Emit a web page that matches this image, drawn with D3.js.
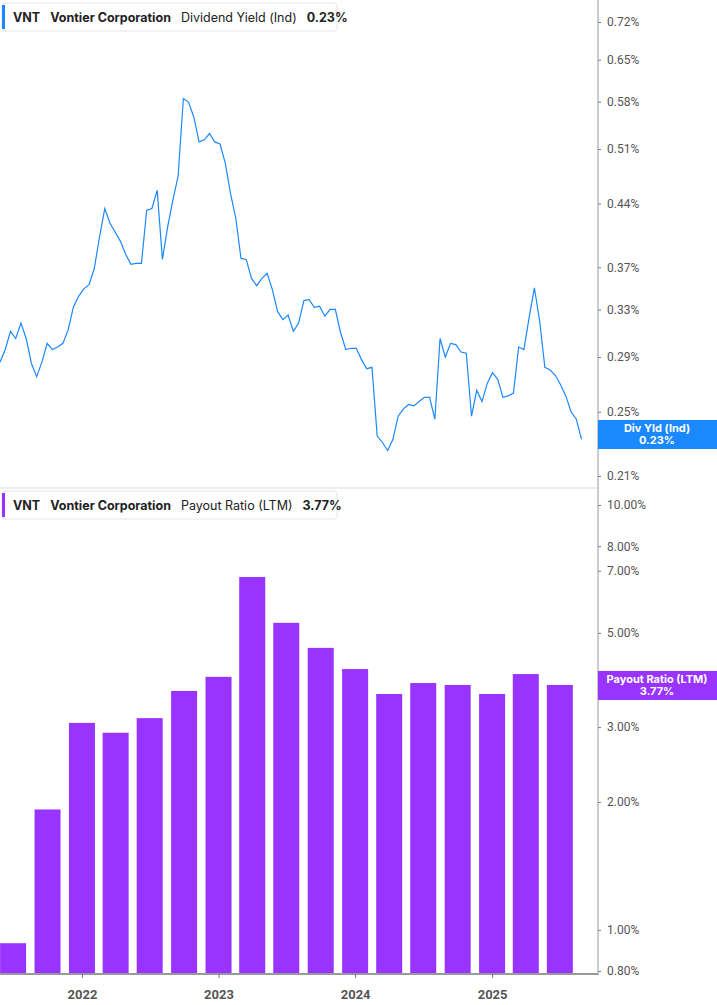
<!DOCTYPE html>
<html><head><meta charset="utf-8">
<script src="https://cdn.jsdelivr.net/npm/d3@7"></script>
<style>body{margin:0;background:#fff;font-family:Inter,"Noto Sans",sans-serif}</style>
</head><body><svg id="c" width="717" height="1005"></svg>
<script>
const yieldStart = "2021-05-27";
const yieldStepDays = 14;
const yieldValues = [0.286,0.296,0.311,0.305,0.318,0.305,0.285,0.275,0.286,0.301,0.296,0.298,0.301,0.312,0.332,0.342,0.349,0.353,0.369,0.402,0.434,0.417,0.407,0.397,0.383,0.373,0.374,0.374,0.432,0.434,0.456,0.378,0.413,0.444,0.474,0.585,0.579,0.556,0.520,0.523,0.532,0.520,0.517,0.491,0.452,0.423,0.379,0.378,0.359,0.352,0.359,0.364,0.348,0.328,0.321,0.325,0.311,0.318,0.338,0.339,0.332,0.333,0.324,0.330,0.330,0.310,0.296,0.297,0.297,0.288,0.281,0.282,0.234,0.230,0.225,0.232,0.247,0.252,0.255,0.254,0.257,0.260,0.260,0.245,0.305,0.290,0.301,0.300,0.294,0.293,0.247,0.265,0.257,0.270,0.278,0.273,0.260,0.261,0.263,0.298,0.296,0.323,0.350,0.320,0.282,0.280,0.276,0.269,0.261,0.250,0.245,0.232];
const payoutDates = ["2021-07-01","2021-10-01","2022-01-01","2022-04-01","2022-07-01","2022-10-01","2023-01-01","2023-04-01","2023-07-01","2023-10-01","2024-01-01","2024-04-01","2024-07-01","2024-10-01","2025-01-01","2025-04-01","2025-07-01"];
const payoutValues = [0.93,1.92,3.07,2.91,3.15,3.65,3.94,6.77,5.28,4.61,4.11,3.59,3.81,3.77,3.59,4.00,3.77];
const yieldTicks = [0.21,0.25,0.29,0.33,0.37,0.44,0.51,0.58,0.65,0.72];
const payoutTicks = [0.8,1,2,3,5,7,8,10];
const yearTicks = ["2022","2023","2024","2025"];

const svg = d3.select("#c");
const parse = d3.timeParse("%Y-%m-%d");
const x = d3.scaleTime().domain([parse("2021-05-27"), parse("2025-10-11")]).range([0,598]);
const y1 = d3.scaleLog().domain([0.21,0.72]).range([476,22]);
const y2 = d3.scaleLog().domain([0.8,10]).range([971,505]);
const grey="#555", axisCol="#999";
const yieldData = yieldValues.map((v,i)=>({d:d3.timeDay.offset(parse(yieldStart), i*yieldStepDays), v}));

// separator
svg.append("line").attr("x1",0).attr("x2",598).attr("y1",488).attr("y2",488).attr("stroke","#ddd");
// axes
const a1 = svg.append("g").attr("transform","translate(598,0)")
  .call(d3.axisRight(y1).tickValues(yieldTicks).tickSize(3).tickFormat(d=>d.toFixed(2)+"%"));
const a2 = svg.append("g").attr("transform","translate(598,0)")
  .call(d3.axisRight(y2).tickValues(payoutTicks).tickSize(3).tickFormat(d=>d.toFixed(2)+"%"));
[a1,a2].forEach(a=>{a.select(".domain").remove();a.selectAll("text").attr("fill",grey).attr("font-size",12).attr("x",9).attr("font-family","Roboto,Inter,sans-serif");a.selectAll("line").attr("stroke","#777");});
svg.append("line").attr("x1",598).attr("x2",598).attr("y1",0).attr("y2",975).attr("stroke",axisCol);

// line
svg.append("path").datum(yieldData).attr("fill","none").attr("stroke","#1a88ff").attr("stroke-width",1.2)
  .attr("d",d3.line().x(d=>x(d.d)).y(d=>y1(d.v)));

// bars
const bw = 26;
svg.append("g").selectAll("rect").data(payoutValues).join("rect")
  .attr("x",(d,i)=>x(parse(payoutDates[i]))-bw/2).attr("width",bw)
  .attr("y",d=>y2(d)).attr("height",d=>974-y2(d)).attr("fill","#9933ff");

// bottom axis
const ax = svg.append("g").attr("transform","translate(0,974)")
  .call(d3.axisBottom(x).tickValues(yearTicks.map(t=>parse(t+"-01-01"))).tickSize(4).tickFormat(d3.timeFormat("%Y")));
ax.select(".domain").attr("stroke",axisCol).attr("stroke-width",2).attr("d","M0,0H598");
ax.selectAll("line").attr("stroke","#777");
ax.selectAll("text").attr("fill",grey).attr("font-size",13).attr("font-weight","bold").attr("dy","1.4em").attr("font-family","Roboto,Inter,sans-serif");

// legends
function legend(y, color, metric, val){
  const g = svg.append("g").attr("transform",`translate(2,${y})`);
  g.append("rect").attr("x",0).attr("y",0).attr("width",335).attr("height",28).attr("rx",3).attr("fill","#fff").attr("stroke","#e6e6e6");
  g.append("rect").attr("x",0).attr("y",2).attr("width",3).attr("height",24).attr("fill",color);
  const t = g.append("text").attr("x",11).attr("y",19).attr("font-size",12.5).attr("fill","#222");
  t.append("tspan").attr("font-weight","bold").text("VNT");
  t.append("tspan").attr("dx",10).attr("font-weight","bold").text("Vontier Corporation");
  t.append("tspan").attr("dx",10).text(metric);
  t.append("tspan").attr("dx",10).attr("font-weight","bold").text(val);
}
legend(3,"#1a88ff","Dividend Yield (Ind)","0.23%");
legend(491,"#9933ff","Payout Ratio (LTM)","3.77%");

// value labels
function tag(yc,color,l1,l2){
  const g = svg.append("g");
  g.append("rect").attr("x",598).attr("y",yc-14).attr("width",119).attr("height",29).attr("fill",color);
  g.append("text").attr("x",657).attr("y",yc-2).attr("text-anchor","middle").attr("fill","#fff").attr("font-size",11).attr("font-weight","bold").text(l1);
  g.append("text").attr("x",657).attr("y",yc+10).attr("text-anchor","middle").attr("fill","#fff").attr("font-size",11).attr("font-weight","bold").text(l2);
}
tag(434,"#1a88ff","Div Yld (Ind)","0.23%");
tag(685,"#9933ff","Payout Ratio (LTM)","3.77%");
</script></body></html>
